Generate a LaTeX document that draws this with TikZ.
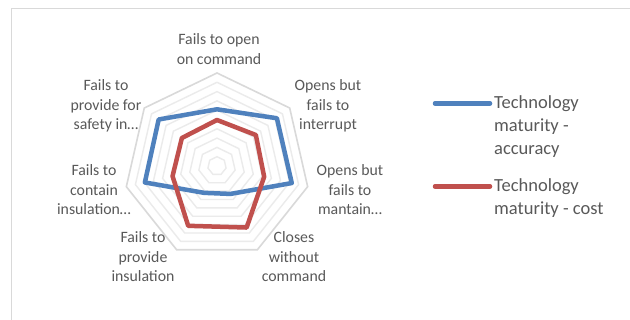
\documentclass[tikz,border=0pt]{standalone}
\usepackage{fontspec}
\setmainfont{Carlito}
\usepackage{xcolor}
\usepackage{tikz}
\usetikzlibrary{positioning}
\definecolor{chartBlue}{HTML}{4F81BD}
\definecolor{chartRed}{HTML}{C0504D}
\definecolor{chartText}{HTML}{595959}
\definecolor{chartFrame}{HTML}{D9D9D9}
\definecolor{chartGrid}{HTML}{EBEBEB}
\tikzset{
  axislabel/.style={align=center, text=chartText, inner sep=0pt, font=\fontsize{15.8}{19.5}\selectfont},
  legendlabel/.style={align=left, text=chartText, inner sep=0pt, anchor=north west, font=\fontsize{18.5}{23}\selectfont},
  gridring/.style={draw=chartGrid, line width=1.4pt},
  outerring/.style={draw=chartFrame, line width=1.6pt},
  seriesline/.style={line width=4.5pt, line join=round},
  legendline/.style={line width=4.5pt, line cap=round}
}
\begin{document}
\begin{tikzpicture}[x=1pt, y=1pt]
\useasboundingbox (0,0) rectangle (630,320);
\fill[white] (0,0) rectangle (630,320);
% chart frame
\draw[chartFrame, line width=1.6pt] (11.5,-5) -- (11.5,311.5) -- (640,311.5);
% radar grid
\coordinate (ctr) at (217,154);
\foreach \r in {9.3,18.6,...,84}
  \draw[gridring, shift={(ctr)}] (90:\r) \foreach \k in {1,...,6} { -- (90-\k*360/7:\r) } -- cycle;
\draw[outerring, shift={(ctr)}] (90:93) \foreach \k in {1,...,6} { -- (90-\k*360/7:93) } -- cycle;
% series
\draw[seriesline, chartBlue, shift={(ctr)}] (90:56.7) -- (90-360/7:76.6) -- (90-2*360/7:76.7)
  -- (90-3*360/7:31) -- (90-4*360/7:29.8) -- (90-5*360/7:74) -- (90-6*360/7:74.6) -- cycle;
\draw[seriesline, chartRed, shift={(ctr)}] (90:46) -- (90-360/7:49.7) -- (90-2*360/7:48.4)
  -- (90-3*360/7:68.3) -- (90-4*360/7:66.4) -- (90-5*360/7:45.6) -- (90-6*360/7:44.9) -- cycle;
% axis labels
\node[axislabel] (open) at (219,271) {Fails to open\\on command};
\node[axislabel] (interrupt) at (328,214) {Opens but\\fails to\\interrupt};
\node[axislabel] (maintain) at (350,130) {Opens but\\fails to\\mantain…};
\node[axislabel] (closes) at (294,63) {Closes\\without\\command};
\node[axislabel] (provide) at (143,63) {Fails to\\provide\\insulation};
\node[axislabel] (contain) at (94,130) {Fails to\\contain\\insulation…};
\node[axislabel] (safety) at (106,214) {Fails to\\provide for\\safety in…};
% legend
\coordinate (accA) at (435,216.5);
\coordinate (accB) at (490,216.5);
\coordinate (costA) at (435,133.5);
\coordinate (costB) at (490,133.5);
\draw[legendline, chartBlue] (accA) -- (accB);
\draw[legendline, chartRed] (costA) -- (costB);
\node[legendlabel] (accText) at (494,224.5) {Technology\\maturity -\\accuracy};
\node[legendlabel] (costText) at (494,141.5) {Technology\\maturity - cost};
\end{tikzpicture}
\end{document}
